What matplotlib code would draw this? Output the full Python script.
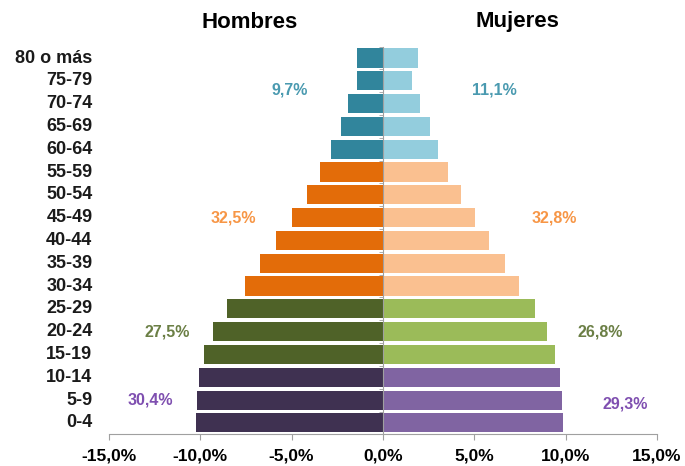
import numpy as np
import matplotlib
matplotlib.use('Agg')
import matplotlib.pyplot as plt
from matplotlib.ticker import FixedLocator

plt.rcParams['font.family'] = ['Liberation Sans Narrow', 'Liberation Sans', 'DejaVu Sans']

# grupos de edad, de 0-4 hasta 80 o más
edades = ['0-4', '5-9', '10-14', '15-19', '20-24', '25-29', '30-34', '35-39',
          '40-44', '45-49', '50-54', '55-59', '60-64', '65-69', '70-74',
          '75-79', '80 o más']
hombres = [10.25, 10.18, 10.07, 9.80, 9.30, 8.51, 7.55, 6.72,
           5.86, 5.00, 4.14, 3.44, 2.85, 2.32, 1.89, 1.42, 1.42]
mujeres = [9.87, 9.78, 9.68, 9.44, 8.98, 8.32, 7.43, 6.67,
           5.80, 5.04, 4.27, 3.58, 2.99, 2.56, 2.03, 1.60, 1.93]

# colores por tramo (hombres, mujeres, etiqueta)
grupos = [(0, 3, '#3f3151', '#8064a2', '#7f4fb0'),
          (3, 6, '#4f6228', '#9bbb59', '#6b7f45'),
          (6, 12, '#e36c09', '#fac090', '#f79646'),
          (12, 17, '#31859c', '#93cddd', '#4a9ab0')]
pct_h = ['30,4%', '27,5%', '32,5%', '9,7%']
pct_m = ['29,3%', '26,8%', '32,8%', '11,1%']
pos_h = [(-12.75, 1.0), (-11.8, 4.0), (-8.2, 9.0), (-5.1, 14.6)]
pos_m = [(13.25, 0.85), (11.9, 4.0), (9.4, 9.0), (6.1, 14.6)]

ticks = [-15, -10, -5, 0, 5, 10, 15]
tick_labels = ['-15,0%', '-10,0%', '-5,0%', '0,0%', '5,0%', '10,0%', '15,0%']

fig = plt.figure(figsize=(6.85, 4.66), dpi=100)
ax = fig.add_axes([0.159, 0.068, 0.8, 0.832])

y = np.arange(len(edades))
for k, (a, b, ch, cm, cl) in enumerate(grupos):
    yy = y[a:b]
    ax.barh(yy, -np.array(hombres[a:b]), height=0.84, color=ch, zorder=2)
    ax.barh(yy, np.array(mujeres[a:b]), height=0.84, color=cm, zorder=2)
    ax.text(pos_h[k][0], pos_h[k][1], pct_h[k], color=cl, fontsize=11.5,
            fontweight='bold', ha='center', va='center')
    ax.text(pos_m[k][0], pos_m[k][1], pct_m[k], color=cl, fontsize=11.5,
            fontweight='bold', ha='center', va='center')

ax.set_xlim(-15, 15)
ax.set_ylim(-0.5, 16.5)

for s in ['top', 'right']:
    ax.spines[s].set_visible(False)
ax.spines['left'].set_position(('data', 0))
ax.spines['left'].set_color('#a0a0a0')
ax.spines['bottom'].set_color('#a0a0a0')
ax.spines['left'].set_zorder(3)

ax.set_xticks(ticks)
ax.set_xticklabels(tick_labels, fontsize=12.5, fontweight='bold')
ax.tick_params(axis='x', colors='#a0a0a0', length=4, labelcolor='black', pad=6)

# marcas pequeñas en el eje central entre grupos
ax.set_yticks([])
ax.yaxis.set_minor_locator(FixedLocator(np.arange(-0.5, 17, 1)))
ax.tick_params(axis='y', which='minor', length=3, colors='#a0a0a0')

for i, lab in enumerate(edades):
    ax.text(-15.9, i, lab, ha='right', va='center', fontsize=13,
            fontweight='bold', color='#1a1a1a')

fig.text(250 / 685, 1 - 22 / 466, 'Hombres', ha='center', va='center',
         fontsize=16, fontweight='bold')
fig.text(517 / 685, 1 - 22 / 466, 'Mujeres', ha='center', va='center',
         fontsize=16, fontweight='bold')

plt.savefig('out.png', dpi=100)
